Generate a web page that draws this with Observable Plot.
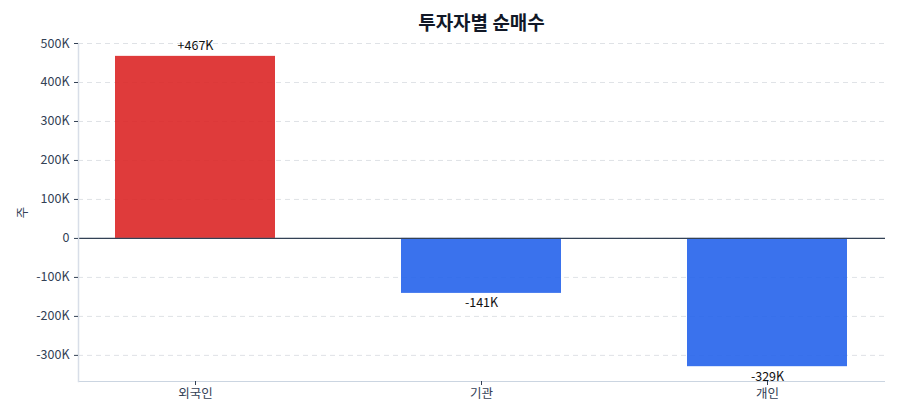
<!DOCTYPE html>
<html>
<head>
<meta charset="utf-8">
<script src="https://cdn.jsdelivr.net/npm/d3@7"></script>
<script src="https://cdn.jsdelivr.net/npm/@observablehq/plot@0.6"></script>
<style>
  body { margin: 0; background: #fff; font-family: "Noto Sans CJK KR", "Noto Sans", sans-serif; }
  #title { height: 34px; box-sizing: border-box; padding: 8px 15px 0 78px; text-align: center;
           font-size: 19px; font-weight: 700; color: #111827; line-height: 28px; }
  svg { display: block; }
</style>
</head>
<body>
<div id="title">투자자별 순매수</div>
<div id="chart"></div>
<script>
const investors = ["외국인", "기관", "개인"];
const netBuy = [467000, -141000, -329000];
const yTicks = [500000, 400000, 300000, 200000, 100000, 0, -100000, -200000, -300000];

const data = investors.map((name, i) => ({ name, value: netBuy[i] }));
const pos = data.filter(d => d.value >= 0);
const neg = data.filter(d => d.value < 0);
const fmtK = v => v === 0 ? "0" : (v / 1000) + "K";
const fmtLabel = v => (v > 0 ? "+" : "") + Math.round(v / 1000) + "K";

const chart = Plot.plot({
  width: 900,
  height: 386,
  marginTop: 9,
  marginBottom: 39,
  marginLeft: 78,
  marginRight: 15,
  style: { fontFamily: "'Noto Sans CJK KR', 'Noto Sans', sans-serif", fontSize: "12.5px", color: "#334155" },
  x: { domain: investors, paddingInner: 0.44, paddingOuter: 0.128, label: null },
  y: { domain: [-367000, 500000], label: null },
  marks: [
    Plot.gridY(yTicks, { stroke: "#d1d5db", strokeOpacity: 0.7, strokeDasharray: "5,4" }),
    Plot.barY(data, { x: "name", y: "value", fill: d => d.value >= 0 ? "#dc2626" : "#2563eb", fillOpacity: 0.9 }),
    Plot.ruleY([0], { stroke: "#334155", strokeWidth: 1.3 }),
    Plot.ruleY([-367000], { stroke: "#cbd5e1", strokeWidth: 1.2 }),
    Plot.frame({ anchor: "left", stroke: "#d8dee8", strokeWidth: 1.5 }),
    Plot.axisY(yTicks, { tickFormat: fmtK, tickSize: 4, tickPadding: 5, fontSize: 12.5, color: "#334155", label: "주", labelAnchor: "center", labelArrow: "none", labelOffset: 60 }),
    Plot.axisX({ tickSize: 4, tickPadding: 4, fontSize: 12.5, color: "#334155", label: null }),
    Plot.text(pos, { x: "name", y: "value", text: d => fmtLabel(d.value), lineAnchor: "bottom", dy: -6, fill: "#111", fontSize: 12.5 }),
    Plot.text(neg, { x: "name", y: "value", text: d => fmtLabel(d.value), lineAnchor: "top", dy: 5, fill: "#111", fontSize: 12.5 }),
  ]
});
document.getElementById("chart").appendChild(chart);
</script>
</body>
</html>
